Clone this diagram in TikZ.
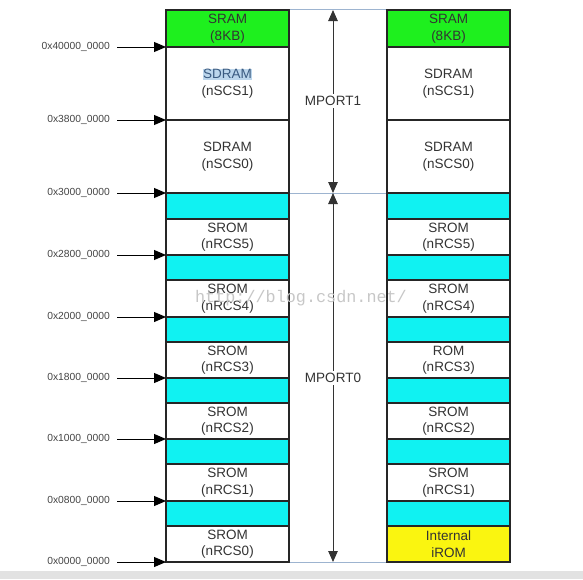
\documentclass[tikz,border=0pt]{standalone}
\usepackage{fontspec}
\setmainfont{Liberation Sans}
\newfontfamily\wmfont{Liberation Mono}
\usetikzlibrary{arrows.meta}
\definecolor{txt}{HTML}{333333}
\definecolor{addrtxt}{HTML}{444444}
\definecolor{sgreen}{HTML}{1EF01E}
\definecolor{scyan}{HTML}{10F2F2}
\definecolor{syellow}{HTML}{FAF510}
\definecolor{sepblue}{HTML}{9DB4D0}
\definecolor{selblue}{HTML}{BCD6EC}
\definecolor{barbg}{HTML}{E2E2E2}
\newcommand\selhl[1]{{\setlength{\fboxsep}{0.6pt}\colorbox{selblue}{\textcolor[HTML]{3A5A80}{#1}}}}
\begin{document}
\begin{tikzpicture}[x=1pt,y=-1pt,
  cell/.style={draw=black!85,line width=1.1pt,minimum width=123pt,inner sep=0pt,
    align=center,text=txt,font=\fontsize{13.5}{16.5}\selectfont,fill=white},
  addrlab/.style={anchor=east,inner sep=0pt,inner xsep=7pt,text=addrtxt,font=\fontsize{10.3}{12}\selectfont},
  addrarrow/.style={draw=black,line width=1pt,-{Triangle[length=12pt,width=10pt]}},
  portarrow/.style={draw=black!80,line width=1pt,{Triangle[length=11pt,width=9.5pt]}-{Triangle[length=11pt,width=9.5pt]}},
  portlab/.style={fill=white,inner sep=2pt,text=txt,font=\fontsize{13.5}{16}\selectfont},
  sepline/.style={draw=sepblue,line width=0.8pt}]
\useasboundingbox (0,0) rectangle (583,579);
% bottom bar
\fill[barbg] (0,571) rectangle (583,579);

% ---------- left column ----------
\node[cell,fill=sgreen,minimum height=37pt] (Lsram) at (227.5,28.5) {SRAM\\(8KB)};
\node[cell,minimum height=73pt] (Lsd1) at (227.5,83.5) {\selhl{SDRAM}\\(nSCS1)};
\node[cell,minimum height=73pt] (Lsd0) at (227.5,156.5) {SDRAM\\(nSCS0)};
\node[cell,fill=scyan,minimum height=26pt] (Lc5) at (227.5,206) {};
\node[cell,minimum height=36pt] (Lr5) at (227.5,237) {SROM\\(nRCS5)};
\node[cell,fill=scyan,minimum height=25pt] (Lc4) at (227.5,267.5) {};
\node[cell,minimum height=37pt] (Lr4) at (227.5,298.5) {SROM\\(nRCS4)};
\node[cell,fill=scyan,minimum height=25pt] (Lc3) at (227.5,329.5) {};
\node[cell,minimum height=36pt] (Lr3) at (227.5,360) {SROM\\(nRCS3)};
\node[cell,fill=scyan,minimum height=25pt] (Lc2) at (227.5,390.5) {};
\node[cell,minimum height=36pt] (Lr2) at (227.5,421) {SROM\\(nRCS2)};
\node[cell,fill=scyan,minimum height=25pt] (Lc1) at (227.5,451.5) {};
\node[cell,minimum height=37pt] (Lr1) at (227.5,482.5) {SROM\\(nRCS1)};
\node[cell,fill=scyan,minimum height=25pt] (Lc0) at (227.5,513.5) {};
\node[cell,minimum height=36pt] (Lr0) at (227.5,544) {SROM\\(nRCS0)};

% ---------- right column ----------
\node[cell,fill=sgreen,minimum height=37pt] (Rsram) at (448.5,28.5) {SRAM\\(8KB)};
\node[cell,minimum height=73pt] (Rsd1) at (448.5,83.5) {SDRAM\\(nSCS1)};
\node[cell,minimum height=73pt] (Rsd0) at (448.5,156.5) {SDRAM\\(nSCS0)};
\node[cell,fill=scyan,minimum height=26pt] (Rc5) at (448.5,206) {};
\node[cell,minimum height=36pt] (Rr5) at (448.5,237) {SROM\\(nRCS5)};
\node[cell,fill=scyan,minimum height=25pt] (Rc4) at (448.5,267.5) {};
\node[cell,minimum height=37pt] (Rr4) at (448.5,298.5) {SROM\\(nRCS4)};
\node[cell,fill=scyan,minimum height=25pt] (Rc3) at (448.5,329.5) {};
\node[cell,minimum height=36pt] (Rr3) at (448.5,360) {ROM\\(nRCS3)};
\node[cell,fill=scyan,minimum height=25pt] (Rc2) at (448.5,390.5) {};
\node[cell,minimum height=36pt] (Rr2) at (448.5,421) {SROM\\(nRCS2)};
\node[cell,fill=scyan,minimum height=25pt] (Rc1) at (448.5,451.5) {};
\node[cell,minimum height=37pt] (Rr1) at (448.5,482.5) {SROM\\(nRCS1)};
\node[cell,fill=scyan,minimum height=25pt] (Rc0) at (448.5,513.5) {};
\node[cell,fill=syellow,minimum height=36pt] (Rr0) at (448.5,544) {Internal\\iROM};

% ---------- lines between the columns ----------
\draw[sepline] (Lsram.north east) -- (Rsram.north west);
\draw[sepline] (Lsd0.south east) -- (Rsd0.south west);
\draw[sepline] (Lr0.south east) -- (Rr0.south west);

% ---------- address labels and arrows ----------
\node[addrlab] (a40) at (117,47) {0x40000\_0000};
\node[addrlab] (a38) at (117,120) {0x3800\_0000};
\node[addrlab] (a30) at (117,193) {0x3000\_0000};
\node[addrlab] (a28) at (117,255) {0x2800\_0000};
\node[addrlab] (a20) at (117,317) {0x2000\_0000};
\node[addrlab] (a18) at (117,378) {0x1800\_0000};
\node[addrlab] (a10) at (117,439) {0x1000\_0000};
\node[addrlab] (a08) at (117,501) {0x0800\_0000};
\node[addrlab] (a00) at (117,562) {0x0000\_0000};
\coordinate (t40) at (166,47);
\coordinate (t38) at (166,120);
\coordinate (t30) at (166,193);
\coordinate (t28) at (166,255);
\coordinate (t20) at (166,317);
\coordinate (t18) at (166,378);
\coordinate (t10) at (166,439);
\coordinate (t08) at (166,501);
\coordinate (t00) at (166,562);
\draw[addrarrow] (a40.east) -- (t40);
\draw[addrarrow] (a38.east) -- (t38);
\draw[addrarrow] (a30.east) -- (t30);
\draw[addrarrow] (a28.east) -- (t28);
\draw[addrarrow] (a20.east) -- (t20);
\draw[addrarrow] (a18.east) -- (t18);
\draw[addrarrow] (a10.east) -- (t10);
\draw[addrarrow] (a08.east) -- (t08);
\draw[addrarrow] (a00.east) -- (t00);

% ---------- MPORT arrows ----------
\coordinate (m1t) at (333,10);
\coordinate (m1b) at (333,193);
\coordinate (m0t) at (333,193);
\coordinate (m0b) at (333,562);
\draw[portarrow] (m1t) -- (m1b);
\draw[portarrow] (m0t) -- (m0b);
\node[portlab] (mp1) at (333,101) {MPORT1};
\node[portlab] (mp0) at (333,378) {MPORT0};

% ---------- watermark ----------
\node[text=black!22,font=\wmfont\fontsize{16.8}{18}\selectfont,inner sep=0pt] (wm) at (301,298) {http://blog.csdn.net/};
\end{tikzpicture}
\end{document}
